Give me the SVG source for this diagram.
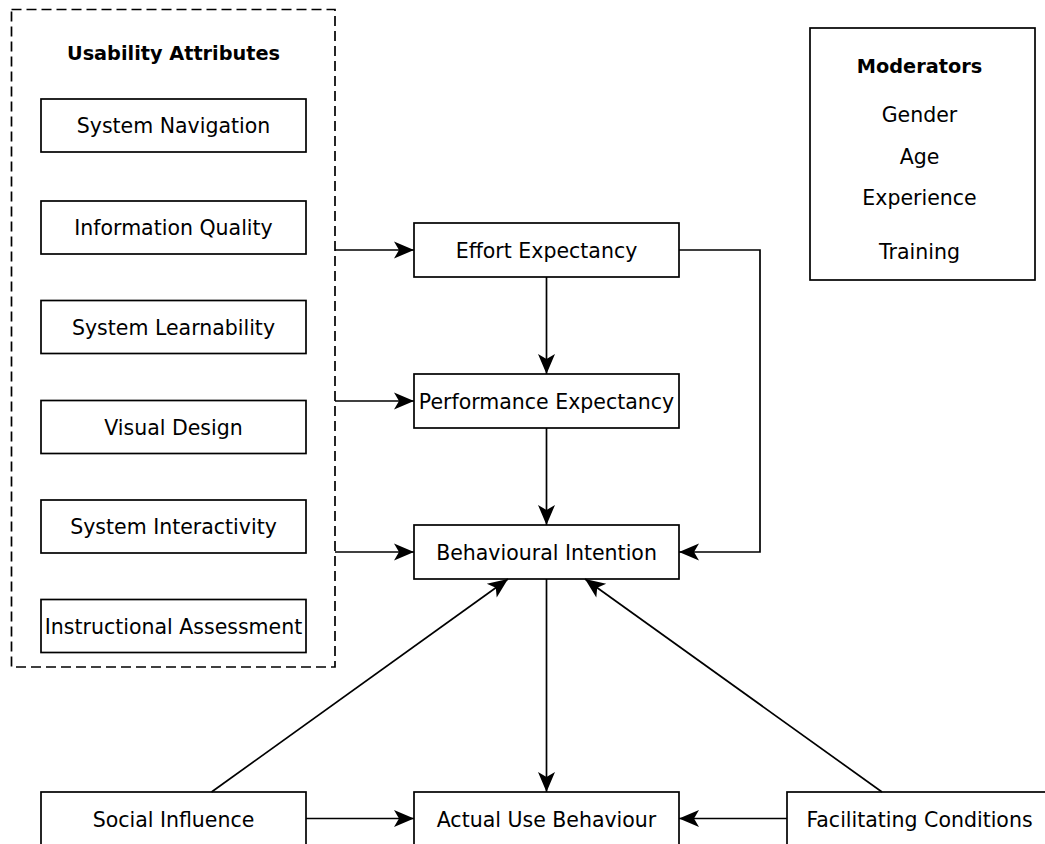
<svg xmlns="http://www.w3.org/2000/svg" width="1045" height="844" viewBox="0 0 1045 844">
  <style>
    .box { fill: #ffffff; stroke: #000000; stroke-width: 1.7; }
    .group { fill: none; stroke: #000000; stroke-width: 1.7; stroke-dasharray: 10 5; }
    .label { font-family: "DejaVu Sans", "Liberation Sans", sans-serif; font-size: 20.5px; fill: #000000; text-anchor: middle; }
    .title { font-family: "DejaVu Sans", "Liberation Sans", sans-serif; font-size: 19.3px; font-weight: bold; fill: #000000; text-anchor: middle; }
    .edge { fill: none; stroke: #000000; stroke-width: 1.7; }
  </style>
  <defs>
    <marker id="arrow" markerUnits="userSpaceOnUse" markerWidth="23" markerHeight="20" viewBox="-22 -10 23 20" refX="0" refY="0" orient="auto">
      <path d="M0,0 L-20,-8.5 L-15,0 L-20,8.5 Z" fill="#000000"/>
    </marker>
  </defs>

  <rect width="1045" height="844" fill="#ffffff"/>

  <!-- Usability attributes container -->
  <g id="usability-attributes">
    <rect class="group" x="11.5" y="9.5" width="323.5" height="657.5"/>
    <text class="title" x="173.5" y="60">Usability Attributes</text>
  </g>
  <g id="system-navigation">
    <rect class="box" x="41" y="99" width="265" height="53"/>
    <text class="label" x="173.5" y="133">System Navigation</text>
  </g>
  <g id="information-quality">
    <rect class="box" x="41" y="201" width="265" height="53"/>
    <text class="label" x="173.5" y="235">Information Quality</text>
  </g>
  <g id="system-learnability">
    <rect class="box" x="41" y="300.5" width="265" height="53"/>
    <text class="label" x="173.5" y="334.5">System Learnability</text>
  </g>
  <g id="visual-design">
    <rect class="box" x="41" y="400.5" width="265" height="53"/>
    <text class="label" x="173.5" y="434.5">Visual Design</text>
  </g>
  <g id="system-interactivity">
    <rect class="box" x="41" y="500" width="265" height="53"/>
    <text class="label" x="173.5" y="534">System Interactivity</text>
  </g>
  <g id="instructional-assessment">
    <rect class="box" x="41" y="599.5" width="265" height="53"/>
    <text class="label" x="173.5" y="633.5">Instructional Assessment</text>
  </g>

  <!-- Core model -->
  <g id="effort-expectancy">
    <rect class="box" x="414" y="223" width="265" height="54"/>
    <text class="label" x="546.5" y="257.5">Effort Expectancy</text>
  </g>
  <g id="performance-expectancy">
    <rect class="box" x="414" y="374" width="265" height="54"/>
    <text class="label" x="546.5" y="408.5">Performance Expectancy</text>
  </g>
  <g id="behavioural-intention">
    <rect class="box" x="414" y="525" width="265" height="54"/>
    <text class="label" x="546.5" y="559.5">Behavioural Intention</text>
  </g>
  <g id="actual-use-behaviour">
    <rect class="box" x="414" y="792" width="265" height="54"/>
    <text class="label" x="546.5" y="826.5">Actual Use Behaviour</text>
  </g>
  <g id="social-influence">
    <rect class="box" x="41" y="792" width="265" height="54"/>
    <text class="label" x="173.5" y="826.5">Social Influence</text>
  </g>
  <g id="facilitating-conditions">
    <rect class="box" x="787" y="792" width="265" height="54"/>
    <text class="label" x="919.5" y="826.5">Facilitating Conditions</text>
  </g>

  <!-- Moderators -->
  <g id="moderators">
    <rect class="box" x="810" y="28" width="225" height="252"/>
    <text class="title" x="919.5" y="73">Moderators</text>
    <text class="label" x="919.5" y="121.5">Gender</text>
    <text class="label" x="919.5" y="163.5">Age</text>
    <text class="label" x="919.5" y="205">Experience</text>
    <text class="label" x="919.5" y="258.5">Training</text>
  </g>

  <!-- Connectors -->
  <g id="connectors">
    <path class="edge" d="M335,250 L414,250" marker-end="url(#arrow)"/>
    <path class="edge" d="M335,401 L414,401" marker-end="url(#arrow)"/>
    <path class="edge" d="M335,552 L414,552" marker-end="url(#arrow)"/>
    <path class="edge" d="M546.5,277 L546.5,374" marker-end="url(#arrow)"/>
    <path class="edge" d="M546.5,428 L546.5,525" marker-end="url(#arrow)"/>
    <path class="edge" d="M679,250 L760,250 L760,552 L679,552" marker-end="url(#arrow)"/>
    <path class="edge" d="M546.5,579 L546.5,792" marker-end="url(#arrow)"/>
    <path class="edge" d="M211.5,792 L508,579" marker-end="url(#arrow)"/>
    <path class="edge" d="M882,792 L585,579" marker-end="url(#arrow)"/>
    <path class="edge" d="M306,818.5 L414,818.5" marker-end="url(#arrow)"/>
    <path class="edge" d="M787,818.5 L679,818.5" marker-end="url(#arrow)"/>
  </g>
</svg>
